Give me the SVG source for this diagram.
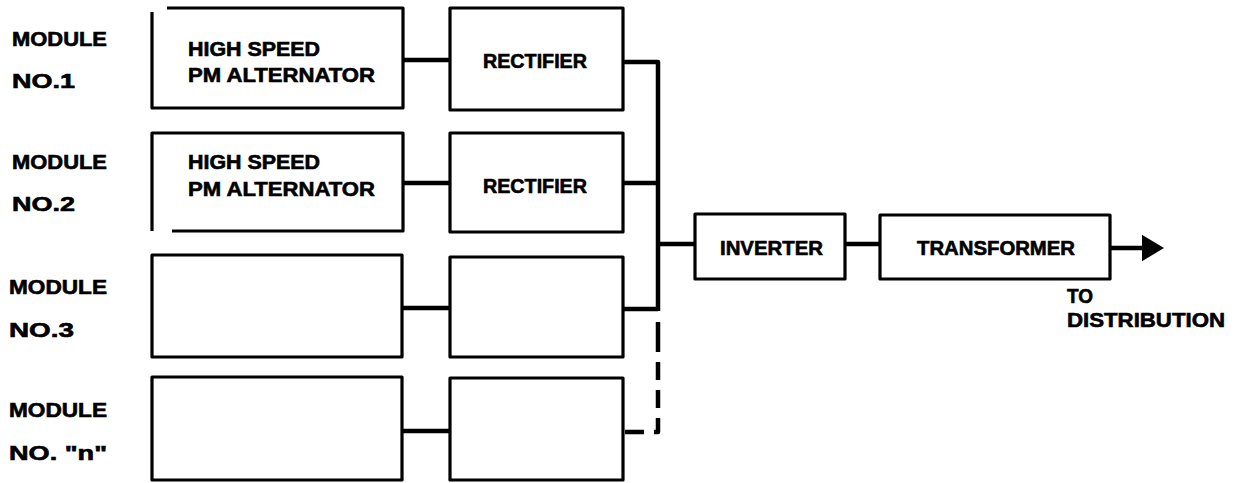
<svg xmlns="http://www.w3.org/2000/svg" width="1241" height="483" viewBox="0 0 1241 483">
<style>
.box{fill:none;stroke:#000;stroke-width:3.2;stroke-linejoin:round}
.wire{fill:none;stroke:#000;stroke-width:4.5;stroke-linejoin:round}
.dash{fill:none;stroke:#000;stroke-width:4.5;stroke-linejoin:round}
text{font-family:"Liberation Sans",Arial,sans-serif;font-weight:bold;font-size:19.5px;fill:#000;stroke:#000;stroke-width:0.6}
</style>
<defs>
<marker id="arr" markerWidth="6" markerHeight="6" refX="1" refY="3" orient="auto" markerUnits="strokeWidth">
<path d="M0,0 L5,3 L0,6 Z" fill="#000"/>
</marker>
</defs>
<rect width="1241" height="483" fill="#fff"/>

<g id="labels">
<text x="12" y="46" textLength="95" lengthAdjust="spacingAndGlyphs">MODULE</text>
<text x="12" y="88" textLength="63" lengthAdjust="spacingAndGlyphs">NO.1</text>
<text x="12" y="169" textLength="95" lengthAdjust="spacingAndGlyphs">MODULE</text>
<text x="12" y="211" textLength="63" lengthAdjust="spacingAndGlyphs">NO.2</text>
<text x="9" y="294" textLength="98" lengthAdjust="spacingAndGlyphs">MODULE</text>
<text x="9" y="337" textLength="65" lengthAdjust="spacingAndGlyphs">NO.3</text>
<text x="9" y="417" textLength="98" lengthAdjust="spacingAndGlyphs">MODULE</text>
<text x="9" y="460" textLength="98" lengthAdjust="spacingAndGlyphs">NO. "n"</text>
</g>

<g id="alternator1">
<path class="box" d="M167,8 H403 V108 H152 V12"/>
<text x="188" y="56" textLength="132" lengthAdjust="spacingAndGlyphs">HIGH SPEED</text>
<text x="188" y="82" textLength="187" lengthAdjust="spacingAndGlyphs">PM ALTERNATOR</text>
</g>
<g id="alternator2">
<path class="box" d="M152,231 V133 H403 V231 H172"/>
<text x="188" y="169" textLength="132" lengthAdjust="spacingAndGlyphs">HIGH SPEED</text>
<text x="188" y="196" textLength="187" lengthAdjust="spacingAndGlyphs">PM ALTERNATOR</text>
</g>
<g id="alternator3"><rect class="box" x="152" y="255" width="250" height="102"/></g>
<g id="alternatorN"><rect class="box" x="152" y="377" width="250" height="103"/></g>

<g id="rectifier1">
<rect class="box" x="450" y="8" width="173" height="102"/>
<text x="483" y="68" textLength="104" lengthAdjust="spacingAndGlyphs">RECTIFIER</text>
</g>
<g id="rectifier2">
<rect class="box" x="450" y="133" width="173" height="99"/>
<text x="483" y="193" textLength="104" lengthAdjust="spacingAndGlyphs">RECTIFIER</text>
</g>
<g id="rectifier3"><rect class="box" x="450" y="257" width="173" height="100"/></g>
<g id="rectifierN"><rect class="box" x="450" y="378" width="173" height="102"/></g>

<g id="inverter">
<rect class="box" x="695" y="214" width="150" height="65"/>
<text x="720" y="255" textLength="103" lengthAdjust="spacingAndGlyphs">INVERTER</text>
</g>
<g id="transformer">
<rect class="box" x="880" y="215" width="230" height="64"/>
<text x="917" y="255" textLength="158" lengthAdjust="spacingAndGlyphs">TRANSFORMER</text>
</g>
<g id="output-label">
<text x="1067" y="303" textLength="26" lengthAdjust="spacingAndGlyphs">TO</text>
<text x="1067" y="327" textLength="158" lengthAdjust="spacingAndGlyphs">DISTRIBUTION</text>
</g>

<g id="connectors">
<line class="wire" x1="403" y1="60" x2="450" y2="60"/>
<line class="wire" x1="403" y1="183" x2="450" y2="183"/>
<line class="wire" x1="402" y1="308" x2="450" y2="308"/>
<line class="wire" x1="402" y1="431" x2="450" y2="431"/>
<path class="wire" d="M623,62 H658 V311"/>
<line class="wire" x1="623" y1="183" x2="658" y2="183"/>
<line class="wire" x1="623" y1="309" x2="658" y2="309"/>
<path class="dash" d="M658,322 V432 H625" style="stroke-dasharray:30 10 18 10 18 10 18 10 26 10 10 10"/>
<line class="wire" x1="658" y1="244" x2="695" y2="244"/>
<line class="wire" x1="845" y1="244" x2="880" y2="244"/>
<line class="wire" x1="1110" y1="248" x2="1146" y2="248" marker-end="url(#arr)"/>
</g>
</svg>
